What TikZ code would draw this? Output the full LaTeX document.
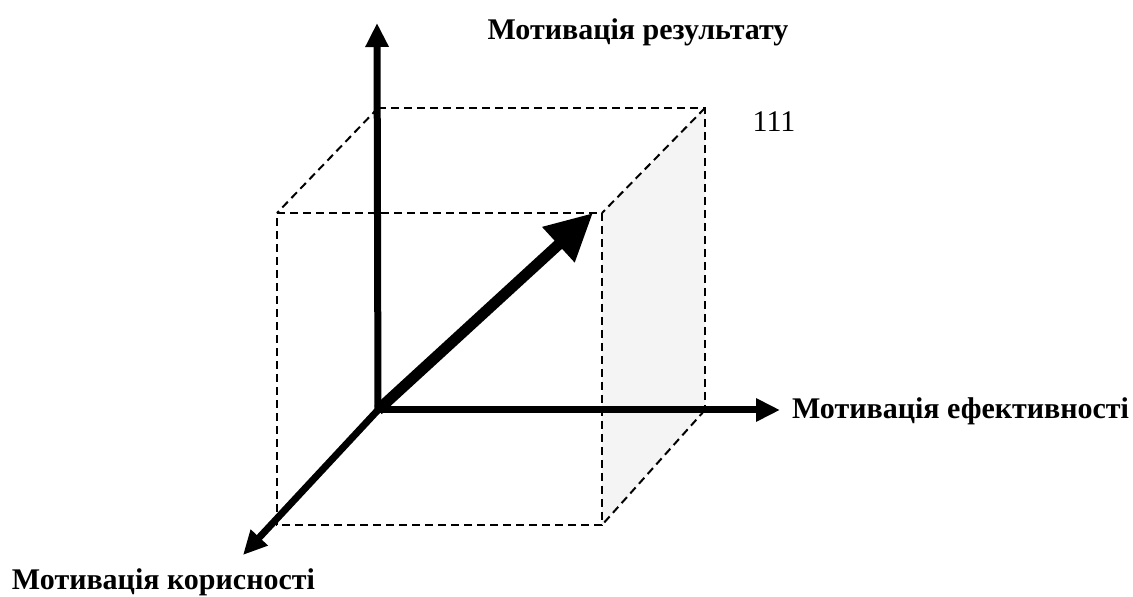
\documentclass[tikz,border=0pt]{standalone}
\usepackage{fontspec}
\setmainfont{Liberation Serif}
\usetikzlibrary{arrows.meta}
\definecolor{mvInk}{HTML}{000000}
\definecolor{mvFace}{HTML}{F4F4F4}

\begin{document}
\begin{tikzpicture}[
  x=1pt,y=1pt,
  every node/.style={text=mvInk,inner sep=0pt,outer sep=0pt},
  lbl/.style={font=\bfseries\fontsize{30}{34}\selectfont},
  num/.style={font=\fontsize{30}{34}\selectfont},
  edge/.style={draw=mvInk,line width=2pt,dash pattern=on 8pt off 5pt},
  axis/.style={draw=mvInk,line width=7pt,-{Triangle[length=24pt,width=22pt]}},
  diag/.style={draw=mvInk,line width=11pt,-{Triangle[length=47pt,width=45pt]}}
]
\path[use as bounding box] (0,0) rectangle (1133,597);
% corners of the cube
\coordinate (O) at (378,187);
\coordinate (B1) at (378,489);
\coordinate (B2) at (705,489);
\coordinate (B3) at (705,187);
\coordinate (F1) at (277,384);
\coordinate (F2) at (602,384);
\coordinate (F3) at (602,72);
\coordinate (F4) at (277,72);
% axis ends
\coordinate (Xend) at (780,187);
\coordinate (Yend) at (377,574);
\coordinate (Zend) at (243,42);
\coordinate (Dend) at (593,384);
% shaded side face
\fill[mvFace] (F2) -- (B2) -- (B3) -- (F3) -- cycle;
% dashed edges
\draw[edge] (B1) -- (B2) -- (B3);
\draw[edge] (F1) -- (F2) -- (F3) -- (F4) -- cycle;
\draw[edge] (B1) -- (F1);
\draw[edge] (B2) -- (F2);
\draw[edge] (B3) -- (F3);
% axes
\draw[axis] (O) -- (Xend);
\draw[axis] (O) -- (Yend);
\draw[axis] (O) -- (Zend);
\draw[diag] (O) -- (Dend);
% labels
\node[lbl] (resLbl) at (638,565) {Мотивація результату};
\node[lbl,anchor=west] (effLbl) at (792,186) {Мотивація ефективності};
\node[lbl,anchor=west] (korLbl) at (12,15) {Мотивація корисності};
\node[num] (cornerLbl) at (774,475) {111};
\end{tikzpicture}
\end{document}
